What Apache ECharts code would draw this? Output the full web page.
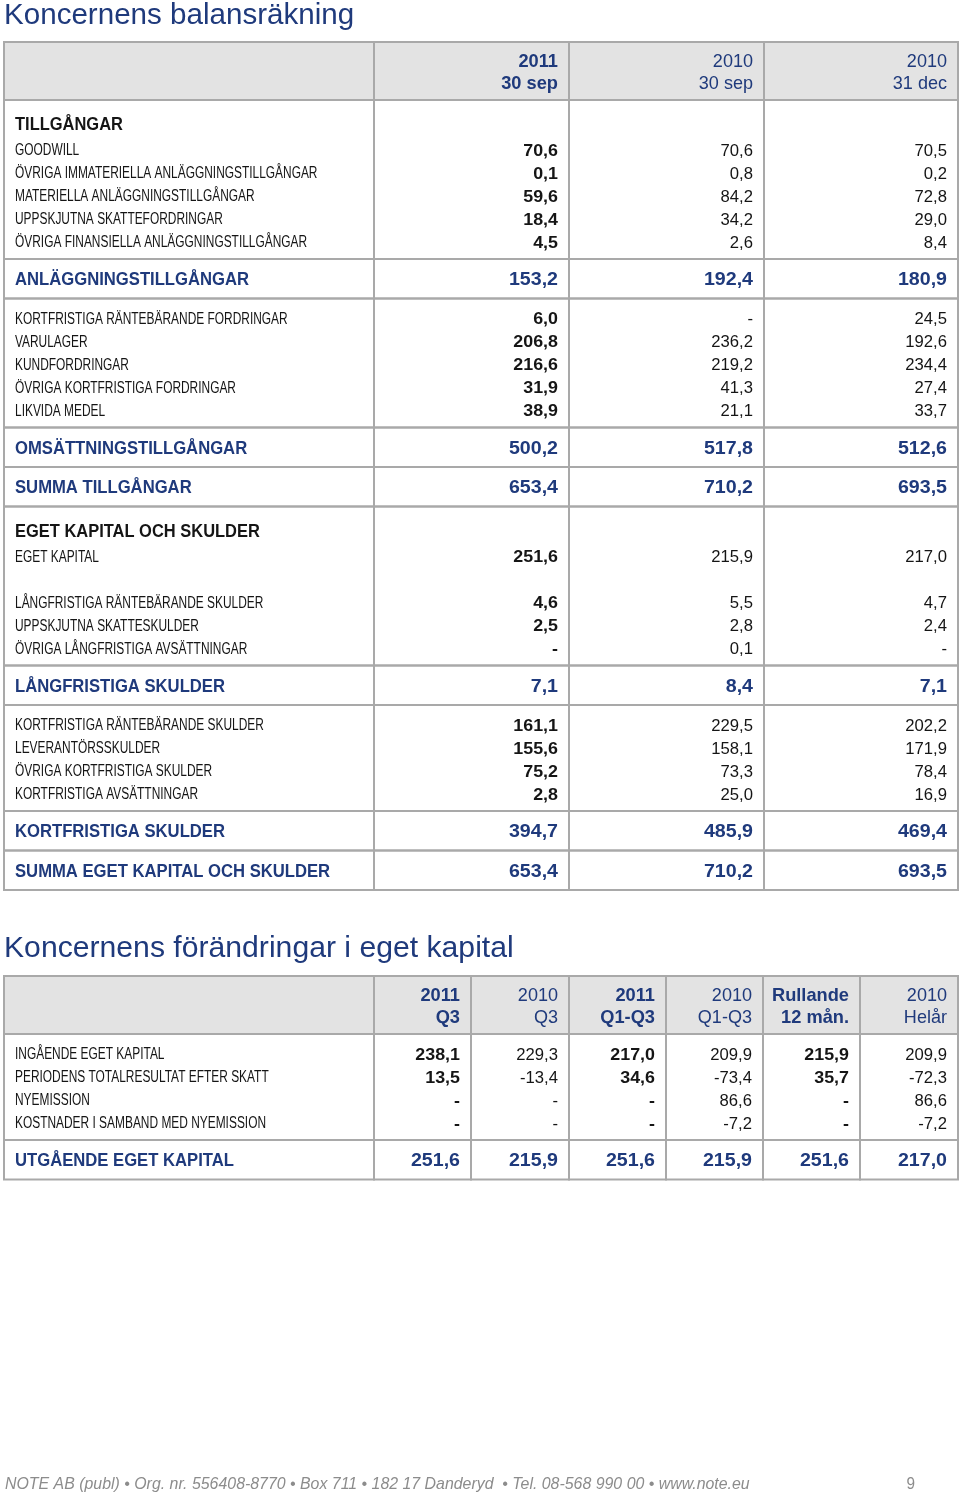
<!DOCTYPE html>
<html lang="sv">
<head>
<meta charset="UTF-8">
<script src="https://cdn.jsdelivr.net/npm/echarts@6/dist/echarts.min.js"></script>
<style>
  html, body { margin: 0; padding: 0; background: #fff; }
  #chart { width: 960px; height: 1496px; }
</style>
</head>
<body>
<div id="chart"></div>
<script>
// ---- Koncernens balansräkning ----
var balHeads = ['2011\n30 sep', '2010\n30 sep', '2010\n31 dec'];
var balBold = [true, false, false];
var balLabels = [
  'TILLGÅNGAR',
  'GOODWILL',
  'ÖVRIGA IMMATERIELLA ANLÄGGNINGSTILLGÅNGAR',
  'MATERIELLA ANLÄGGNINGSTILLGÅNGAR',
  'UPPSKJUTNA SKATTEFORDRINGAR',
  'ÖVRIGA FINANSIELLA ANLÄGGNINGSTILLGÅNGAR',
  'ANLÄGGNINGSTILLGÅNGAR',
  'KORTFRISTIGA RÄNTEBÄRANDE FORDRINGAR',
  'VARULAGER',
  'KUNDFORDRINGAR',
  'ÖVRIGA KORTFRISTIGA FORDRINGAR',
  'LIKVIDA MEDEL',
  'OMSÄTTNINGSTILLGÅNGAR',
  'SUMMA TILLGÅNGAR',
  'EGET KAPITAL OCH SKULDER',
  'EGET KAPITAL',
  '',
  'LÅNGFRISTIGA RÄNTEBÄRANDE SKULDER',
  'UPPSKJUTNA SKATTESKULDER',
  'ÖVRIGA LÅNGFRISTIGA AVSÄTTNINGAR',
  'LÅNGFRISTIGA SKULDER',
  'KORTFRISTIGA RÄNTEBÄRANDE SKULDER',
  'LEVERANTÖRSSKULDER',
  'ÖVRIGA KORTFRISTIGA SKULDER',
  'KORTFRISTIGA AVSÄTTNINGAR',
  'KORTFRISTIGA SKULDER',
  'SUMMA EGET KAPITAL OCH SKULDER'
];
var balKinds = [
  'sub', 'row', 'row', 'row', 'row', 'row', 'total',
  'row', 'row', 'row', 'row', 'row', 'total', 'total',
  'sub', 'row', 'blank', 'row', 'row', 'row', 'total',
  'row', 'row', 'row', 'row', 'total', 'total'
];
var bal2011Sep = [
  undefined, 70.6, 0.1, 59.6, 18.4, 4.5, 153.2,
  6.0, 206.8, 216.6, 31.9, 38.9, 500.2, 653.4,
  undefined, 251.6, undefined, 4.6, 2.5, null, 7.1,
  161.1, 155.6, 75.2, 2.8, 394.7, 653.4
];
var bal2010Sep = [
  undefined, 70.6, 0.8, 84.2, 34.2, 2.6, 192.4,
  null, 236.2, 219.2, 41.3, 21.1, 517.8, 710.2,
  undefined, 215.9, undefined, 5.5, 2.8, 0.1, 8.4,
  229.5, 158.1, 73.3, 25.0, 485.9, 710.2
];
var bal2010Dec = [
  undefined, 70.5, 0.2, 72.8, 29.0, 8.4, 180.9,
  24.5, 192.6, 234.4, 27.4, 33.7, 512.6, 693.5,
  undefined, 217.0, undefined, 4.7, 2.4, null, 7.1,
  202.2, 171.9, 78.4, 16.9, 469.4, 693.5
];

// ---- Koncernens förändringar i eget kapital ----
var eqHeads = ['2011\nQ3', '2010\nQ3', '2011\nQ1-Q3', '2010\nQ1-Q3', 'Rullande\n12 mån.', '2010\nHelår'];
var eqBold = [true, false, true, false, true, false];
var eqLabels = [
  'INGÅENDE EGET KAPITAL',
  'PERIODENS TOTALRESULTAT EFTER SKATT',
  'NYEMISSION',
  'KOSTNADER I SAMBAND MED NYEMISSION',
  'UTGÅENDE EGET KAPITAL'
];
var eqKinds = ['row', 'row', 'row', 'row', 'total'];
var eq2011Q3 = [238.1, 13.5, null, null, 251.6];
var eq2010Q3 = [229.3, -13.4, null, null, 215.9];
var eq2011Q1Q3 = [217.0, 34.6, null, null, 251.6];
var eq2010Q1Q3 = [209.9, -73.4, 86.6, -7.2, 215.9];
var eqRolling = [215.9, 35.7, null, null, 251.6];
var eq2010Full = [209.9, -72.3, 86.6, -7.2, 217.0];

// ---- looks ----
var FONT = '"Liberation Sans", Arial, sans-serif';
var BLUE = '#1f3a7c';
var INK = '#151515';
var LINE = '#a9a9a9';
var HEAD_BG = '#e3e3e3';
var HEAD_H = 58, ROW_H = 23, SUB_H = 30, TOTAL_H = 39.5, PAD_T = 8, PAD_B = 6;
var TABLE_W = 954, TEXT_PAD = 11, TEXT_DY = 1.5;
var balEdges = [0, 370, 565, 760, 954];
var eqEdges = [0, 370, 467, 565, 662, 759, 856, 954];

function fmt(v) {
  if (v === null) return '-';
  return v.toFixed(1).replace('.', ',');
}

// row boxes and text centres from the row kinds
function layout(kinds) {
  var blocks = [[0, HEAD_H, 1]];
  var rows = [];
  var y = HEAD_H, open = null;
  kinds.forEach(function (k, i) {
    if (k === 'total') {
      if (open !== null) { y += PAD_B; blocks.push([open, y, 0]); open = null; }
      rows.push([y + TOTAL_H / 2 + TEXT_DY, i]);
      blocks.push([y, y + TOTAL_H, 0]);
      y += TOTAL_H;
    } else {
      if (open === null) { open = y; y += PAD_T; }
      if (k === 'sub') { rows.push([y + 17, i]); y += SUB_H; }
      else { rows.push([y + ROW_H / 2 + TEXT_DY, i]); y += ROW_H; }
    }
  });
  if (open !== null) { y += PAD_B; blocks.push([open, y, 0]); }
  return { blocks: blocks, rows: rows, height: y };
}

function txt(x, y, text, align, size, weight, color, sx, italic) {
  return {
    type: 'text', x: x, y: y, scaleX: sx,
    style: {
      text: text, x: 0, y: 0, align: align, verticalAlign: 'middle',
      fontFamily: FONT, fontSize: size, fontWeight: weight,
      fontStyle: italic ? 'italic' : 'normal', fill: color
    }
  };
}

function blockSeries(L, edges, ai) {
  return {
    type: 'custom', xAxisIndex: ai, yAxisIndex: ai, silent: true, z: 1,
    data: L.blocks,
    renderItem: function (params, api) {
      var top = api.value(0), bottom = api.value(1), head = api.value(2);
      var kids = [];
      for (var c = 0; c < edges.length - 1; c++) {
        var p0 = api.coord([edges[c], top]);
        var p1 = api.coord([edges[c + 1], bottom]);
        kids.push({
          type: 'rect',
          shape: { x: p0[0], y: p0[1], width: p1[0] - p0[0], height: p1[1] - p0[1] },
          style: { fill: head ? HEAD_BG : 'transparent', stroke: LINE, lineWidth: 2 }
        });
      }
      return { type: 'group', children: kids };
    }
  };
}

function headSeries(heads, bold, edges, ai) {
  return {
    type: 'custom', xAxisIndex: ai, yAxisIndex: ai, silent: true, z: 3,
    data: heads.map(function (h, i) { return [i]; }),
    renderItem: function (params, api) {
      var c = api.value(0);
      var parts = heads[c].split('\n');
      var b = bold[c];
      var p1 = api.coord([edges[c + 2] - TEXT_PAD, 19.5]);
      var p2 = api.coord([edges[c + 2] - TEXT_PAD, 41.5]);
      return { type: 'group', children: [
        txt(p1[0], p1[1], parts[0], 'right', 19, b ? 'bold' : 'normal', BLUE, b ? 0.96 : 0.95),
        txt(p2[0], p2[1], parts[1], 'right', 19, b ? 'bold' : 'normal', BLUE, b ? 0.96 : 0.95)
      ] };
    }
  };
}

function rowSeries(L, labels, kinds, cols, bold, edges, ai) {
  return {
    type: 'custom', xAxisIndex: ai, yAxisIndex: ai, silent: true, z: 3,
    data: L.rows,
    renderItem: function (params, api) {
      var cy = api.value(0), i = api.value(1);
      var k = kinds[i];
      if (k === 'blank') return { type: 'group', children: [] };
      var kids = [];
      var pl = api.coord([TEXT_PAD, cy]);
      if (k === 'total') kids.push(txt(pl[0], pl[1], labels[i], 'left', 18.5, 'bold', BLUE, 0.9));
      else if (k === 'sub') kids.push(txt(pl[0], pl[1], labels[i], 'left', 18.5, 'bold', INK, 0.89));
      else kids.push(txt(pl[0], pl[1], labels[i], 'left', 16, 'normal', INK, 0.745));
      if (k !== 'sub') {
        for (var c = 0; c < cols.length; c++) {
          var pv = api.coord([edges[c + 2] - TEXT_PAD, cy]);
          var s = fmt(cols[c][i]);
          if (k === 'total') kids.push(txt(pv[0], pv[1], s, 'right', 18, 'bold', BLUE, 1.09));
          else if (bold[c]) kids.push(txt(pv[0], pv[1], s, 'right', 17, 'bold', INK, 1.05));
          else kids.push(txt(pv[0], pv[1], s, 'right', 17, 'normal', INK, 0.98));
        }
      }
      return { type: 'group', children: kids };
    }
  };
}

var balL = layout(balKinds);
var eqL = layout(eqKinds);
var balCols = [bal2011Sep, bal2010Sep, bal2010Dec];
var eqCols = [eq2011Q3, eq2010Q3, eq2011Q1Q3, eq2010Q1Q3, eqRolling, eq2010Full];

var chart = echarts.init(document.getElementById('chart'), null, { renderer: 'canvas' });
chart.setOption({
  animation: false,
  backgroundColor: '#fff',
  grid: [
    { left: 4, top: 42, width: TABLE_W, height: balL.height, containLabel: false },
    { left: 4, top: 976, width: TABLE_W, height: eqL.height, containLabel: false }
  ],
  xAxis: [
    { type: 'value', gridIndex: 0, min: 0, max: TABLE_W, show: false },
    { type: 'value', gridIndex: 1, min: 0, max: TABLE_W, show: false }
  ],
  yAxis: [
    { type: 'value', gridIndex: 0, min: 0, max: balL.height, inverse: true, show: false },
    { type: 'value', gridIndex: 1, min: 0, max: eqL.height, inverse: true, show: false }
  ],
  graphic: [
    txt(4, 16, 'Koncernens balansräkning', 'left', 29, 'normal', BLUE, 1.02),
    txt(4, 949, 'Koncernens förändringar i eget kapital', 'left', 29, 'normal', BLUE, 1.04),
    txt(5, 1484, 'NOTE AB (publ) • Org. nr. 556408-8770 • Box 711 • 182 17 Danderyd  • Tel. 08-568 990 00 • www.note.eu', 'left', 17, 'normal', '#8c8c8c', 0.935, true),
    txt(915, 1484, '9', 'right', 17, 'normal', '#8c8c8c', 0.9, false)
  ],
  series: [
    blockSeries(balL, balEdges, 0),
    headSeries(balHeads, balBold, balEdges, 0),
    rowSeries(balL, balLabels, balKinds, balCols, balBold, balEdges, 0),
    blockSeries(eqL, eqEdges, 1),
    headSeries(eqHeads, eqBold, eqEdges, 1),
    rowSeries(eqL, eqLabels, eqKinds, eqCols, eqBold, eqEdges, 1)
  ]
});
</script>
</body>
</html>
